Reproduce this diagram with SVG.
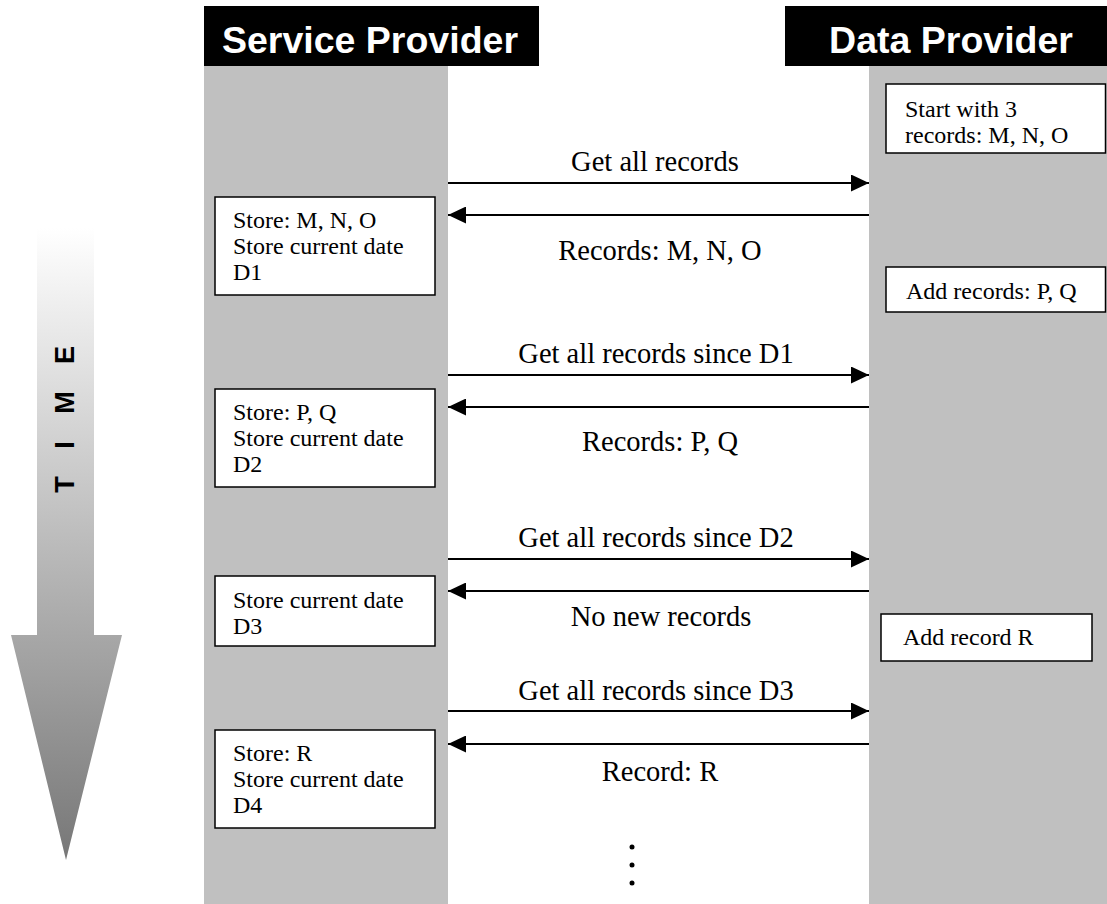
<svg xmlns="http://www.w3.org/2000/svg" width="1107" height="904" viewBox="0 0 1107 904">
<style>
.hdr{fill:#000}
.hdrt{fill:#fff;font-family:"Liberation Sans",Arial,sans-serif;font-weight:bold;font-size:37.5px;text-anchor:middle}
.col{fill:#c0c0c0}
.box{fill:#fff;stroke:#000;stroke-width:1.5}
.bt{font-family:"Liberation Serif","Times New Roman",serif;font-size:24px;fill:#000}
.lbl{font-family:"Liberation Serif","Times New Roman",serif;font-size:28.5px;fill:#000;text-anchor:middle}
.conn{stroke:#000;stroke-width:1.8;fill:none}
.tm{font-family:"Liberation Sans",Arial,sans-serif;font-weight:bold;font-size:27px;fill:#000;text-anchor:middle}
.dot{fill:#000}
</style>
<defs>
<marker id="ah" viewBox="0 0 18 17" refX="18" refY="8.5" markerWidth="18" markerHeight="17" markerUnits="userSpaceOnUse" orient="auto">
<path d="M0,0 L18,8.5 L0,17 Z" fill="#000"/>
</marker>
<linearGradient id="tg" x1="0" y1="0" x2="0" y2="1">
<stop offset="0" stop-color="#ffffff"/>
<stop offset="1" stop-color="#777777"/>
</linearGradient>
</defs>
<rect width="1107" height="904" fill="#fff"/>

<g id="time-arrow">
<path d="M37,228 L94,228 L94,635 L122,635 L66,860 L11,635 L37,635 Z" fill="url(#tg)"/>
<text class="tm" transform="translate(74,355) rotate(-90)">E</text>
<text class="tm" transform="translate(74,402.5) rotate(-90)">M</text>
<text class="tm" transform="translate(74,445) rotate(-90)">I</text>
<text class="tm" transform="translate(74,484.5) rotate(-90)">T</text>
</g>

<g id="service-provider">
<rect class="col" x="204" y="66" width="244" height="838"/>
<rect class="hdr" x="204" y="6" width="335" height="60"/>
<text class="hdrt" x="370" y="52.5">Service Provider</text>
</g>

<g id="data-provider">
<rect class="col" x="869" y="66" width="238" height="838"/>
<rect class="hdr" x="785" y="6" width="322" height="60"/>
<text class="hdrt" x="951" y="52.5">Data Provider</text>
</g>

<g id="dp-start">
<rect class="box" x="886" y="84" width="219.5" height="69"/>
<text class="bt" x="905" y="117">Start with 3</text>
<text class="bt" x="905" y="143">records: M, N, O</text>
</g>
<g id="dp-add-pq">
<rect class="box" x="886" y="267" width="219.5" height="45"/>
<text class="bt" x="906" y="299">Add records: P, Q</text>
</g>
<g id="dp-add-r">
<rect class="box" x="881" y="614" width="211" height="47"/>
<text class="bt" x="903" y="645">Add record R</text>
</g>

<g id="sp-store1">
<rect class="box" x="215" y="197" width="220" height="98"/>
<text class="bt" x="233" y="228">Store: M, N, O</text>
<text class="bt" x="233" y="254">Store current date</text>
<text class="bt" x="233" y="280">D1</text>
</g>
<g id="sp-store2">
<rect class="box" x="215" y="389" width="220" height="98"/>
<text class="bt" x="233" y="420">Store: P, Q</text>
<text class="bt" x="233" y="446">Store current date</text>
<text class="bt" x="233" y="472">D2</text>
</g>
<g id="sp-store3">
<rect class="box" x="215" y="576" width="220" height="70"/>
<text class="bt" x="233" y="608">Store current date</text>
<text class="bt" x="233" y="634">D3</text>
</g>
<g id="sp-store4">
<rect class="box" x="215" y="730" width="220" height="98"/>
<text class="bt" x="233" y="761">Store: R</text>
<text class="bt" x="233" y="787">Store current date</text>
<text class="bt" x="233" y="813">D4</text>
</g>

<g id="connectors">
<line class="conn" x1="448" y1="183" x2="869" y2="183" marker-end="url(#ah)"/>
<line class="conn" x1="869" y1="215" x2="448" y2="215" marker-end="url(#ah)"/>
<line class="conn" x1="448" y1="375" x2="869" y2="375" marker-end="url(#ah)"/>
<line class="conn" x1="869" y1="407" x2="448" y2="407" marker-end="url(#ah)"/>
<line class="conn" x1="448" y1="559" x2="869" y2="559" marker-end="url(#ah)"/>
<line class="conn" x1="869" y1="591" x2="448" y2="591" marker-end="url(#ah)"/>
<line class="conn" x1="448" y1="711" x2="869" y2="711" marker-end="url(#ah)"/>
<line class="conn" x1="869" y1="744" x2="448" y2="744" marker-end="url(#ah)"/>
<text class="lbl" x="655" y="171">Get all records</text>
<text class="lbl" x="660" y="260">Records: M, N, O</text>
<text class="lbl" x="656" y="363">Get all records since D1</text>
<text class="lbl" x="660" y="451">Records: P, Q</text>
<text class="lbl" x="656" y="547">Get all records since D2</text>
<text class="lbl" x="661" y="626">No new records</text>
<text class="lbl" x="656" y="700">Get all records since D3</text>
<text class="lbl" x="660" y="781">Record: R</text>
</g>

<g id="ellipsis">
<circle class="dot" cx="632" cy="847" r="2.5"/>
<circle class="dot" cx="632" cy="865" r="2.5"/>
<circle class="dot" cx="632" cy="883" r="2.5"/>
</g>
</svg>
